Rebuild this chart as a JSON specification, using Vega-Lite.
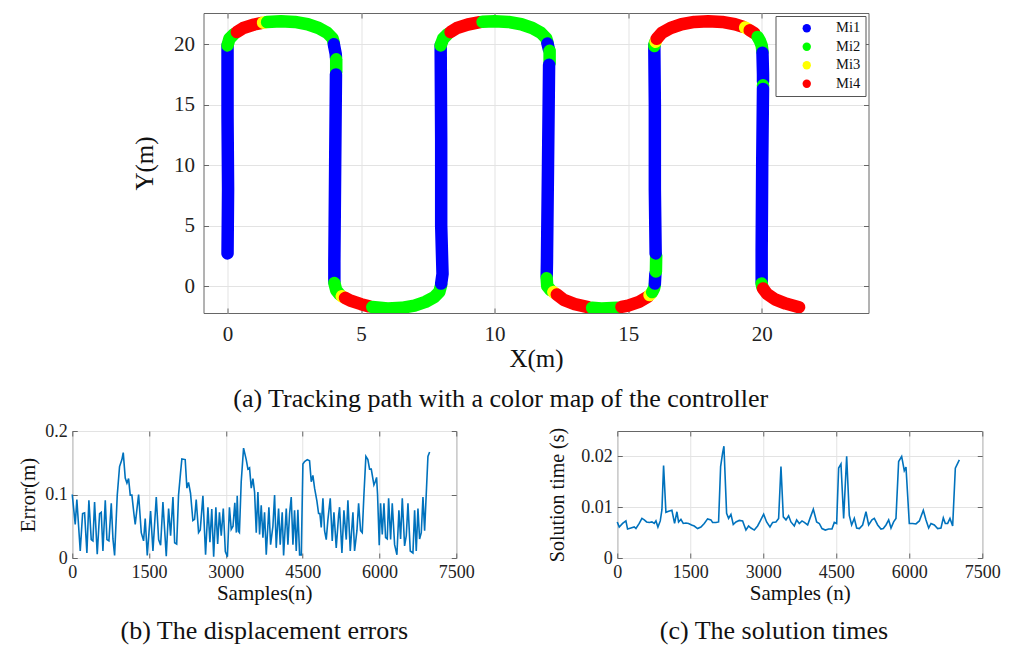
{
  "$schema": "https://vega.github.io/schema/vega-lite/v6.json",
  "background": "white",
  "padding": {"left": 17, "top": 12, "right": 5, "bottom": 5},
  "config": {
    "font": "Liberation Serif",
    "view": {"stroke": "#666666", "strokeWidth": 1},
    "axis": {
      "labelFont": "Liberation Serif",
      "titleFont": "Liberation Serif",
      "labelColor": "#222222",
      "titleColor": "#111111",
      "titleFontWeight": "normal",
      "labelFlush": false,
      "domain": false,
      "tickColor": "#666666",
      "tickSize": -5,
      "grid": true,
      "gridColor": "#e3e3e3",
      "gridWidth": 1
    },
    "title": {"font": "Liberation Serif", "fontWeight": "normal", "color": "#111111"}
  },
  "resolve": {"scale": {"color": "independent"}, "legend": {"color": "independent"}},
  "spacing": 8,
  "center": true,
  "vconcat": [
    {
      "name": "pa",
      "width": 665,
      "height": 300,
      "title": {"text": "(a) Tracking path with a color map of the controller", "orient": "bottom", "fontSize": 26, "offset": 15, "anchor": "middle", "frame": "bounds"},
      "data": {"values": [
        {"x": 0, "y": 2.7, "m": "Mi1", "s": 1}, {"x": 0.02, "y": 8, "m": "Mi1", "s": 1}, {"x": 0, "y": 14, "m": "Mi1", "s": 1}, {"x": 0, "y": 19.9, "m": "Mi1", "s": 1},
        {"x": 0, "y": 19.9, "m": "Mi2", "s": 2}, {"x": 0.07, "y": 20.45, "m": "Mi2", "s": 2}, {"x": 0.25, "y": 20.85, "m": "Mi2", "s": 2},
        {"x": 0.35, "y": 21.0, "m": "Mi4", "s": 3}, {"x": 0.59, "y": 21.34, "m": "Mi4", "s": 3}, {"x": 1.0, "y": 21.63, "m": "Mi4", "s": 3}, {"x": 1.25, "y": 21.75, "m": "Mi4", "s": 3},
        {"x": 1.33, "y": 21.78, "m": "Mi3", "s": 4}, {"x": 1.4, "y": 21.8, "m": "Mi3", "s": 4},
        {"x": 1.48, "y": 21.83, "m": "Mi2", "s": 5}, {"x": 2, "y": 21.9, "m": "Mi2", "s": 5}, {"x": 2.52, "y": 21.84, "m": "Mi2", "s": 5}, {"x": 3, "y": 21.65, "m": "Mi2", "s": 5}, {"x": 3.41, "y": 21.34, "m": "Mi2", "s": 5}, {"x": 3.73, "y": 20.95, "m": "Mi2", "s": 5}, {"x": 3.93, "y": 20.49, "m": "Mi2", "s": 5}, {"x": 3.98, "y": 20.1, "m": "Mi2", "s": 5},
        {"x": 3.98, "y": 20.0, "m": "Mi1", "s": 6}, {"x": 4.05, "y": 19.2, "m": "Mi1", "s": 6}, {"x": 4.06, "y": 18.9, "m": "Mi1", "s": 6},
        {"x": 4.07, "y": 18.75, "m": "Mi2", "s": 7}, {"x": 4.07, "y": 17.7, "m": "Mi2", "s": 7},
        {"x": 4.06, "y": 17.5, "m": "Mi1", "s": 8}, {"x": 4.03, "y": 10, "m": "Mi1", "s": 8}, {"x": 4.0, "y": 2, "m": "Mi1", "s": 8}, {"x": 4.0, "y": 0.35, "m": "Mi1", "s": 8},
        {"x": 4.0, "y": 0.25, "m": "Mi2", "s": 9}, {"x": 4.07, "y": -0.35, "m": "Mi2", "s": 9}, {"x": 4.2, "y": -0.7, "m": "Mi2", "s": 9},
        {"x": 4.28, "y": -0.85, "m": "Mi3", "s": 10}, {"x": 4.32, "y": -0.9, "m": "Mi3", "s": 10},
        {"x": 4.4, "y": -0.98, "m": "Mi4", "s": 11}, {"x": 4.59, "y": -1.2, "m": "Mi4", "s": 11}, {"x": 5.0, "y": -1.5, "m": "Mi4", "s": 11}, {"x": 5.3, "y": -1.68, "m": "Mi4", "s": 11},
        {"x": 5.42, "y": -1.73, "m": "Mi2", "s": 12}, {"x": 6, "y": -1.85, "m": "Mi2", "s": 12}, {"x": 6.52, "y": -1.8, "m": "Mi2", "s": 12}, {"x": 7, "y": -1.62, "m": "Mi2", "s": 12}, {"x": 7.41, "y": -1.31, "m": "Mi2", "s": 12}, {"x": 7.73, "y": -0.93, "m": "Mi2", "s": 12}, {"x": 7.93, "y": -0.48, "m": "Mi2", "s": 12}, {"x": 8.0, "y": 0.1, "m": "Mi2", "s": 12},
        {"x": 8.0, "y": 0.2, "m": "Mi1", "s": 13}, {"x": 8.05, "y": 1.0, "m": "Mi1", "s": 13}, {"x": 8.0, "y": 5, "m": "Mi1", "s": 13}, {"x": 8.0, "y": 12, "m": "Mi1", "s": 13}, {"x": 7.98, "y": 19.9, "m": "Mi1", "s": 13},
        {"x": 7.98, "y": 19.9, "m": "Mi2", "s": 14}, {"x": 8.07, "y": 20.45, "m": "Mi2", "s": 14}, {"x": 8.25, "y": 20.85, "m": "Mi2", "s": 14},
        {"x": 8.35, "y": 21.0, "m": "Mi4", "s": 15}, {"x": 8.59, "y": 21.34, "m": "Mi4", "s": 15}, {"x": 9.0, "y": 21.63, "m": "Mi4", "s": 15}, {"x": 9.45, "y": 21.82, "m": "Mi4", "s": 15},
        {"x": 9.55, "y": 21.85, "m": "Mi2", "s": 16}, {"x": 10, "y": 21.9, "m": "Mi2", "s": 16}, {"x": 10.52, "y": 21.84, "m": "Mi2", "s": 16}, {"x": 11, "y": 21.65, "m": "Mi2", "s": 16}, {"x": 11.41, "y": 21.34, "m": "Mi2", "s": 16}, {"x": 11.73, "y": 20.95, "m": "Mi2", "s": 16}, {"x": 11.93, "y": 20.49, "m": "Mi2", "s": 16}, {"x": 11.98, "y": 20.15, "m": "Mi2", "s": 16},
        {"x": 11.98, "y": 20.05, "m": "Mi1", "s": 17}, {"x": 12.03, "y": 19.6, "m": "Mi1", "s": 17},
        {"x": 12.06, "y": 19.45, "m": "Mi2", "s": 18}, {"x": 12.06, "y": 18.45, "m": "Mi2", "s": 18},
        {"x": 12.04, "y": 18.3, "m": "Mi1", "s": 19}, {"x": 12.0, "y": 10, "m": "Mi1", "s": 19}, {"x": 11.96, "y": 2, "m": "Mi1", "s": 19}, {"x": 11.95, "y": 0.8, "m": "Mi1", "s": 19},
        {"x": 11.95, "y": 0.65, "m": "Mi2", "s": 20}, {"x": 11.97, "y": 0.0, "m": "Mi2", "s": 20}, {"x": 12.1, "y": -0.35, "m": "Mi2", "s": 20},
        {"x": 12.2, "y": -0.5, "m": "Mi3", "s": 21}, {"x": 12.25, "y": -0.58, "m": "Mi3", "s": 21},
        {"x": 12.33, "y": -0.7, "m": "Mi4", "s": 22}, {"x": 12.59, "y": -1.15, "m": "Mi4", "s": 22}, {"x": 13.0, "y": -1.5, "m": "Mi4", "s": 22}, {"x": 13.5, "y": -1.75, "m": "Mi4", "s": 22},
        {"x": 13.65, "y": -1.8, "m": "Mi2", "s": 23}, {"x": 14, "y": -1.85, "m": "Mi2", "s": 23}, {"x": 14.6, "y": -1.8, "m": "Mi2", "s": 23},
        {"x": 14.75, "y": -1.72, "m": "Mi4", "s": 24}, {"x": 15, "y": -1.62, "m": "Mi4", "s": 24}, {"x": 15.41, "y": -1.31, "m": "Mi4", "s": 24}, {"x": 15.73, "y": -0.9, "m": "Mi4", "s": 24},
        {"x": 15.8, "y": -0.75, "m": "Mi3", "s": 25}, {"x": 15.85, "y": -0.65, "m": "Mi3", "s": 25},
        {"x": 15.9, "y": -0.5, "m": "Mi2", "s": 26}, {"x": 15.97, "y": -0.2, "m": "Mi2", "s": 26}, {"x": 16.0, "y": 0.1, "m": "Mi2", "s": 26},
        {"x": 16.0, "y": 0.2, "m": "Mi1", "s": 27}, {"x": 16.02, "y": 1.0, "m": "Mi1", "s": 27},
        {"x": 16.04, "y": 1.2, "m": "Mi2", "s": 28}, {"x": 16.05, "y": 2.5, "m": "Mi2", "s": 28},
        {"x": 16.03, "y": 2.7, "m": "Mi1", "s": 29}, {"x": 16.0, "y": 8, "m": "Mi1", "s": 29}, {"x": 16.0, "y": 15, "m": "Mi1", "s": 29}, {"x": 15.98, "y": 19.9, "m": "Mi1", "s": 29},
        {"x": 15.98, "y": 19.85, "m": "Mi2", "s": 30}, {"x": 16.0, "y": 20.1, "m": "Mi2", "s": 30},
        {"x": 16.03, "y": 20.2, "m": "Mi3", "s": 31}, {"x": 16.05, "y": 20.3, "m": "Mi3", "s": 31},
        {"x": 16.07, "y": 20.45, "m": "Mi4", "s": 32}, {"x": 16.27, "y": 20.95, "m": "Mi4", "s": 32}, {"x": 16.59, "y": 21.34, "m": "Mi4", "s": 32}, {"x": 17, "y": 21.65, "m": "Mi4", "s": 32}, {"x": 17.48, "y": 21.84, "m": "Mi4", "s": 32}, {"x": 18, "y": 21.9, "m": "Mi4", "s": 32}, {"x": 18.52, "y": 21.84, "m": "Mi4", "s": 32}, {"x": 19, "y": 21.65, "m": "Mi4", "s": 32}, {"x": 19.3, "y": 21.45, "m": "Mi4", "s": 32},
        {"x": 19.38, "y": 21.38, "m": "Mi3", "s": 33}, {"x": 19.45, "y": 21.3, "m": "Mi3", "s": 33},
        {"x": 19.55, "y": 21.15, "m": "Mi4", "s": 34}, {"x": 19.73, "y": 20.9, "m": "Mi4", "s": 34},
        {"x": 19.85, "y": 20.6, "m": "Mi2", "s": 35}, {"x": 19.93, "y": 20.3, "m": "Mi2", "s": 35}, {"x": 20.0, "y": 19.9, "m": "Mi2", "s": 35}, {"x": 20.03, "y": 19.4, "m": "Mi2", "s": 35},
        {"x": 20.03, "y": 19.3, "m": "Mi1", "s": 36}, {"x": 20.05, "y": 17.5, "m": "Mi1", "s": 36}, {"x": 20.05, "y": 16.9, "m": "Mi1", "s": 36},
        {"x": 20.05, "y": 16.6, "m": "Mi2", "s": 37}, {"x": 20.05, "y": 16.55, "m": "Mi2", "s": 37},
        {"x": 20.05, "y": 16.3, "m": "Mi1", "s": 38}, {"x": 20.02, "y": 10, "m": "Mi1", "s": 38}, {"x": 20.0, "y": 3, "m": "Mi1", "s": 38}, {"x": 20.0, "y": 0.3, "m": "Mi1", "s": 38},
        {"x": 20.0, "y": 0.2, "m": "Mi2", "s": 39}, {"x": 20.02, "y": -0.05, "m": "Mi2", "s": 39},
        {"x": 20.05, "y": -0.2, "m": "Mi4", "s": 40}, {"x": 20.2, "y": -0.65, "m": "Mi4", "s": 40}, {"x": 20.5, "y": -1.1, "m": "Mi4", "s": 40}, {"x": 20.9, "y": -1.45, "m": "Mi4", "s": 40}, {"x": 21.4, "y": -1.75, "m": "Mi4", "s": 40}
      ]},
      "layer": [
        {
          "mark": {"type": "line", "strokeWidth": 12.5, "strokeCap": "round", "strokeJoin": "round", "clip": true},
          "encoding": {
            "x": {"field": "x", "type": "quantitative", "scale": {"domain": [-0.9, 24], "nice": false, "zero": false},
              "axis": {"values": [0, 5, 10, 15, 20], "format": "d", "title": "X(m)", "labelFontSize": 21, "titleFontSize": 25, "labelPadding": 15, "titlePadding": 2}},
            "y": {"field": "y", "type": "quantitative", "scale": {"domain": [-2.23, 22.58], "nice": false, "zero": false},
              "axis": {"values": [0, 5, 10, 15, 20], "format": "d", "title": "Y(m)", "labelFontSize": 21, "titleFontSize": 25, "labelPadding": 14, "titlePadding": 16}},
            "color": {"field": "m", "type": "nominal",
              "scale": {"domain": ["Mi1", "Mi2", "Mi3", "Mi4"], "range": ["#0000ff", "#00ff00", "#ffff00", "#ff0000"]},
              "legend": {"title": null, "orient": "top-right", "offset": 3, "fillColor": "white", "strokeColor": "#555555", "padding": 5,
                "symbolType": "circle", "symbolSize": 70, "symbolOffset": 19, "labelOffset": 22, "labelFontSize": 14.5, "labelFont": "Liberation Serif", "labelColor": "#111111", "rowPadding": 3.5,
                "encode": {"symbols": {"update": {"fill": {"scale": "pa_color", "field": "value"}, "stroke": {"value": "transparent"}, "strokeWidth": {"value": 0}}}}}},
            "detail": {"field": "s", "type": "nominal"},
            "order": {"value": null}
          }
        },
        {
          "mark": {"type": "point", "opacity": 0},
          "encoding": {
            "x": {"field": "x", "type": "quantitative", "scale": {"domain": [-0.9, 24], "nice": false, "zero": false},
              "axis": {"orient": "top", "values": [0, 5, 10, 15, 20], "labels": false, "title": null, "grid": false}},
            "y": {"field": "y", "type": "quantitative", "scale": {"domain": [-2.23, 22.58], "nice": false, "zero": false},
              "axis": {"orient": "right", "values": [0, 5, 10, 15, 20], "labels": false, "title": null, "grid": false}}
          }
        }
      ],
      "resolve": {"axis": {"x": "independent", "y": "independent"}}
    },
    {
      "spacing": 72,
      "hconcat": [
        {
          "width": 384,
          "height": 127,
          "title": {"text": "(b) The displacement errors", "orient": "bottom", "fontSize": 26, "offset": 15, "anchor": "middle", "frame": "group"},
          "data": {"values": [
            {"n": 0, "e": 0.1}, {"n": 58, "e": 0.053}, {"n": 90, "e": 0.092}, {"n": 156, "e": 0.011}, {"n": 202, "e": 0.07}, {"n": 241, "e": 0.071}, {"n": 286, "e": 0.008}, {"n": 325, "e": 0.091}, {"n": 371, "e": 0.029}, {"n": 404, "e": 0.027}, {"n": 436, "e": 0.088}, {"n": 488, "e": 0.006}, {"n": 534, "e": 0.07}, {"n": 566, "e": 0.072}, {"n": 599, "e": 0.011}, {"n": 645, "e": 0.091}, {"n": 677, "e": 0.029}, {"n": 716, "e": 0.027}, {"n": 762, "e": 0.086}, {"n": 795, "e": 0.03}, {"n": 827, "e": 0.004},
            {"n": 879, "e": 0.099}, {"n": 924, "e": 0.144}, {"n": 970, "e": 0.155}, {"n": 996, "e": 0.166}, {"n": 1035, "e": 0.126}, {"n": 1068, "e": 0.118}, {"n": 1100, "e": 0.125}, {"n": 1133, "e": 0.099}, {"n": 1165, "e": 0.099}, {"n": 1204, "e": 0.07}, {"n": 1230, "e": 0.053},
            {"n": 1296, "e": 0.1}, {"n": 1348, "e": 0.04}, {"n": 1393, "e": 0.027}, {"n": 1425, "e": 0.062}, {"n": 1465, "e": 0.004}, {"n": 1530, "e": 0.074}, {"n": 1576, "e": 0.011}, {"n": 1641, "e": 0.096}, {"n": 1687, "e": 0.029}, {"n": 1726, "e": 0.02}, {"n": 1771, "e": 0.088}, {"n": 1836, "e": 0.003}, {"n": 1882, "e": 0.078}, {"n": 1921, "e": 0.035}, {"n": 1967, "e": 0.096}, {"n": 2000, "e": 0.024}, {"n": 2040, "e": 0.022},
            {"n": 2076, "e": 0.099}, {"n": 2115, "e": 0.134}, {"n": 2141, "e": 0.156}, {"n": 2206, "e": 0.155}, {"n": 2239, "e": 0.11}, {"n": 2271, "e": 0.119}, {"n": 2310, "e": 0.102}, {"n": 2356, "e": 0.059}, {"n": 2389, "e": 0.061},
            {"n": 2421, "e": 0.092}, {"n": 2467, "e": 0.04}, {"n": 2500, "e": 0.044}, {"n": 2552, "e": 0.098}, {"n": 2604, "e": 0.005}, {"n": 2650, "e": 0.08}, {"n": 2689, "e": 0.025}, {"n": 2725, "e": 0.077}, {"n": 2762, "e": 0.002}, {"n": 2805, "e": 0.08}, {"n": 2840, "e": 0.022}, {"n": 2875, "e": 0.072}, {"n": 2910, "e": 0.035}, {"n": 2950, "e": 0.078}, {"n": 2990, "e": 0.01}, {"n": 3030, "e": 0.002}, {"n": 3070, "e": 0.08}, {"n": 3105, "e": 0.045}, {"n": 3140, "e": 0.05}, {"n": 3175, "e": 0.087}, {"n": 3205, "e": 0.04}, {"n": 3222, "e": 0.098}, {"n": 3245, "e": 0.042}, {"n": 3265, "e": 0.04},
            {"n": 3300, "e": 0.12}, {"n": 3346, "e": 0.173}, {"n": 3398, "e": 0.155}, {"n": 3431, "e": 0.14}, {"n": 3463, "e": 0.142}, {"n": 3496, "e": 0.11}, {"n": 3529, "e": 0.125}, {"n": 3561, "e": 0.104},
            {"n": 3594, "e": 0.04}, {"n": 3626, "e": 0.104}, {"n": 3659, "e": 0.037}, {"n": 3691, "e": 0.083}, {"n": 3724, "e": 0.032}, {"n": 3756, "e": 0.072}, {"n": 3789, "e": 0.005}, {"n": 3841, "e": 0.08}, {"n": 3874, "e": 0.021}, {"n": 3919, "e": 0.05}, {"n": 3952, "e": 0.099}, {"n": 3984, "e": 0.016}, {"n": 4030, "e": 0.078}, {"n": 4062, "e": 0.021}, {"n": 4101, "e": 0.072}, {"n": 4128, "e": 0.004}, {"n": 4180, "e": 0.078}, {"n": 4212, "e": 0.021}, {"n": 4245, "e": 0.07}, {"n": 4277, "e": 0.096}, {"n": 4310, "e": 0.021}, {"n": 4342, "e": 0.075}, {"n": 4375, "e": 0.011}, {"n": 4407, "e": 0.076}, {"n": 4440, "e": 0.005}, {"n": 4473, "e": 0.005},
            {"n": 4505, "e": 0.148}, {"n": 4538, "e": 0.152}, {"n": 4590, "e": 0.155}, {"n": 4635, "e": 0.153}, {"n": 4668, "e": 0.12}, {"n": 4700, "e": 0.13}, {"n": 4733, "e": 0.11}, {"n": 4778, "e": 0.09}, {"n": 4811, "e": 0.07}, {"n": 4837, "e": 0.07}, {"n": 4863, "e": 0.048},
            {"n": 4896, "e": 0.094}, {"n": 4928, "e": 0.043}, {"n": 4961, "e": 0.029}, {"n": 4993, "e": 0.06}, {"n": 5039, "e": 0.094}, {"n": 5078, "e": 0.027}, {"n": 5111, "e": 0.072}, {"n": 5156, "e": 0.016}, {"n": 5202, "e": 0.067}, {"n": 5221, "e": 0.08}, {"n": 5267, "e": 0.008}, {"n": 5306, "e": 0.075}, {"n": 5352, "e": 0.029}, {"n": 5384, "e": 0.091}, {"n": 5430, "e": 0.011}, {"n": 5482, "e": 0.072}, {"n": 5514, "e": 0.011}, {"n": 5560, "e": 0.043}, {"n": 5593, "e": 0.086}, {"n": 5632, "e": 0.043}, {"n": 5664, "e": 0.04},
            {"n": 5697, "e": 0.1}, {"n": 5735, "e": 0.16}, {"n": 5774, "e": 0.155}, {"n": 5807, "e": 0.14}, {"n": 5840, "e": 0.14}, {"n": 5892, "e": 0.115}, {"n": 5918, "e": 0.12}, {"n": 5944, "e": 0.127}, {"n": 5963, "e": 0.1},
            {"n": 5996, "e": 0.02}, {"n": 6022, "e": 0.086}, {"n": 6055, "e": 0.037}, {"n": 6088, "e": 0.086}, {"n": 6120, "e": 0.032}, {"n": 6153, "e": 0.03}, {"n": 6179, "e": 0.094}, {"n": 6218, "e": 0.029}, {"n": 6250, "e": 0.086}, {"n": 6296, "e": 0.021}, {"n": 6341, "e": 0.005}, {"n": 6380, "e": 0.075}, {"n": 6413, "e": 0.03}, {"n": 6446, "e": 0.094}, {"n": 6491, "e": 0.019}, {"n": 6524, "e": 0.035}, {"n": 6557, "e": 0.086}, {"n": 6602, "e": 0.011}, {"n": 6654, "e": 0.008}, {"n": 6687, "e": 0.075}, {"n": 6719, "e": 0.011}, {"n": 6752, "e": 0.078}, {"n": 6784, "e": 0.03}, {"n": 6817, "e": 0.04}, {"n": 6850, "e": 0.096}, {"n": 6882, "e": 0.043}, {"n": 6947, "e": 0.16}, {"n": 6980, "e": 0.167}
          ]},
          "layer": [
            {
              "mark": {"type": "line", "color": "#0072BD", "strokeWidth": 1.6},
              "encoding": {
                "x": {"field": "n", "type": "quantitative", "scale": {"domain": [0, 7500], "nice": false},
                  "axis": {"values": [0, 1500, 3000, 4500, 6000, 7500], "format": "d", "title": "Samples(n)", "labelFontSize": 18, "titleFontSize": 21, "labelPadding": 10, "titlePadding": 1}},
                "y": {"field": "e", "type": "quantitative", "scale": {"domain": [0, 0.2], "nice": false},
                  "axis": {"values": [0, 0.1, 0.2], "format": "~g", "title": "Error(m)", "labelFontSize": 18, "titleFontSize": 21, "labelPadding": 10, "titlePadding": 6}}
              }
            },
            {
              "mark": {"type": "point", "opacity": 0},
              "encoding": {
                "x": {"field": "n", "type": "quantitative", "scale": {"domain": [0, 7500], "nice": false},
                  "axis": {"orient": "top", "values": [0, 1500, 3000, 4500, 6000, 7500], "labels": false, "title": null, "grid": false}},
                "y": {"field": "e", "type": "quantitative", "scale": {"domain": [0, 0.2], "nice": false},
                  "axis": {"orient": "right", "values": [0, 0.1, 0.2], "labels": false, "title": null, "grid": false}}
              }
            }
          ],
          "resolve": {"axis": {"x": "independent", "y": "independent"}}
        },
        {
          "width": 365,
          "height": 127,
          "title": {"text": "(c) The solution times", "orient": "bottom", "fontSize": 26, "offset": 15, "anchor": "middle", "frame": "bounds"},
          "data": {"values": [
            {"n": 0, "t": 0.0071}, {"n": 41, "t": 0.0061}, {"n": 110, "t": 0.0068}, {"n": 178, "t": 0.0073}, {"n": 212, "t": 0.0057}, {"n": 281, "t": 0.0059}, {"n": 349, "t": 0.0061}, {"n": 384, "t": 0.0058}, {"n": 452, "t": 0.0068}, {"n": 507, "t": 0.0078}, {"n": 555, "t": 0.0075}, {"n": 603, "t": 0.0071}, {"n": 658, "t": 0.007}, {"n": 712, "t": 0.0071}, {"n": 760, "t": 0.0068}, {"n": 795, "t": 0.0073}, {"n": 836, "t": 0.0061}, {"n": 884, "t": 0.0073}, {"n": 918, "t": 0.0095}, {"n": 952, "t": 0.0182}, {"n": 1000, "t": 0.009}, {"n": 1055, "t": 0.0092}, {"n": 1123, "t": 0.0094}, {"n": 1178, "t": 0.0068}, {"n": 1226, "t": 0.0091}, {"n": 1260, "t": 0.0071}, {"n": 1308, "t": 0.0076}, {"n": 1356, "t": 0.0068}, {"n": 1411, "t": 0.0069}, {"n": 1466, "t": 0.0068}, {"n": 1527, "t": 0.0065}, {"n": 1582, "t": 0.0063}, {"n": 1651, "t": 0.0058}, {"n": 1719, "t": 0.0061}, {"n": 1788, "t": 0.0068}, {"n": 1856, "t": 0.0077}, {"n": 1925, "t": 0.0075}, {"n": 1959, "t": 0.007}, {"n": 2028, "t": 0.007}, {"n": 2082, "t": 0.0071}, {"n": 2124, "t": 0.018}, {"n": 2165, "t": 0.0207}, {"n": 2192, "t": 0.022}, {"n": 2247, "t": 0.0088}, {"n": 2288, "t": 0.0078}, {"n": 2336, "t": 0.0086}, {"n": 2384, "t": 0.0066}, {"n": 2439, "t": 0.0071}, {"n": 2507, "t": 0.0074}, {"n": 2576, "t": 0.0073}, {"n": 2644, "t": 0.0055}, {"n": 2699, "t": 0.0063}, {"n": 2747, "t": 0.0059}, {"n": 2816, "t": 0.0055}, {"n": 2884, "t": 0.0063}, {"n": 2939, "t": 0.0073}, {"n": 3008, "t": 0.0086}, {"n": 3069, "t": 0.0071}, {"n": 3138, "t": 0.0061}, {"n": 3193, "t": 0.007}, {"n": 3261, "t": 0.0071}, {"n": 3316, "t": 0.0078}, {"n": 3364, "t": 0.018}, {"n": 3412, "t": 0.0081}, {"n": 3467, "t": 0.0075}, {"n": 3521, "t": 0.0083}, {"n": 3569, "t": 0.0071}, {"n": 3638, "t": 0.0063}, {"n": 3686, "t": 0.0075}, {"n": 3741, "t": 0.0068}, {"n": 3796, "t": 0.0073}, {"n": 3844, "t": 0.007}, {"n": 3912, "t": 0.0065}, {"n": 3960, "t": 0.0078}, {"n": 4029, "t": 0.0096}, {"n": 4097, "t": 0.0071}, {"n": 4152, "t": 0.0068}, {"n": 4207, "t": 0.0058}, {"n": 4275, "t": 0.0055}, {"n": 4343, "t": 0.0057}, {"n": 4412, "t": 0.0057}, {"n": 4460, "t": 0.007}, {"n": 4508, "t": 0.0068}, {"n": 4549, "t": 0.0177}, {"n": 4597, "t": 0.0185}, {"n": 4652, "t": 0.0078}, {"n": 4714, "t": 0.02}, {"n": 4768, "t": 0.0084}, {"n": 4816, "t": 0.0065}, {"n": 4871, "t": 0.0078}, {"n": 4919, "t": 0.0059}, {"n": 4974, "t": 0.0058}, {"n": 5042, "t": 0.0065}, {"n": 5111, "t": 0.0091}, {"n": 5166, "t": 0.0065}, {"n": 5234, "t": 0.0075}, {"n": 5282, "t": 0.0078}, {"n": 5351, "t": 0.0065}, {"n": 5419, "t": 0.0057}, {"n": 5467, "t": 0.0058}, {"n": 5522, "t": 0.0065}, {"n": 5577, "t": 0.0075}, {"n": 5625, "t": 0.0059}, {"n": 5679, "t": 0.0071}, {"n": 5727, "t": 0.0078}, {"n": 5782, "t": 0.019}, {"n": 5844, "t": 0.02}, {"n": 5898, "t": 0.0172}, {"n": 5933, "t": 0.0179}, {"n": 6001, "t": 0.0068}, {"n": 6070, "t": 0.0068}, {"n": 6138, "t": 0.0067}, {"n": 6207, "t": 0.0073}, {"n": 6289, "t": 0.0094}, {"n": 6344, "t": 0.0075}, {"n": 6399, "t": 0.0059}, {"n": 6447, "t": 0.0068}, {"n": 6515, "t": 0.0065}, {"n": 6584, "t": 0.0058}, {"n": 6652, "t": 0.0059}, {"n": 6700, "t": 0.0079}, {"n": 6741, "t": 0.0068}, {"n": 6789, "t": 0.0068}, {"n": 6837, "t": 0.0078}, {"n": 6892, "t": 0.0063}, {"n": 6947, "t": 0.0177}, {"n": 7029, "t": 0.0193}
          ]},
          "layer": [
            {
              "mark": {"type": "line", "color": "#0072BD", "strokeWidth": 1.6},
              "encoding": {
                "x": {"field": "n", "type": "quantitative", "scale": {"domain": [0, 7500], "nice": false},
                  "axis": {"values": [0, 1500, 3000, 4500, 6000, 7500], "format": "d", "title": "Samples (n)", "labelFontSize": 18, "titleFontSize": 21, "labelPadding": 10, "titlePadding": 1}},
                "y": {"field": "t", "type": "quantitative", "scale": {"domain": [0, 0.025], "nice": false},
                  "axis": {"values": [0, 0.01, 0.02], "format": "~g", "title": "Solution time (s)", "labelFontSize": 18, "titleFontSize": 20, "labelPadding": 10, "titlePadding": 13}}
              }
            },
            {
              "mark": {"type": "point", "opacity": 0},
              "encoding": {
                "x": {"field": "n", "type": "quantitative", "scale": {"domain": [0, 7500], "nice": false},
                  "axis": {"orient": "top", "values": [0, 1500, 3000, 4500, 6000, 7500], "labels": false, "title": null, "grid": false}},
                "y": {"field": "t", "type": "quantitative", "scale": {"domain": [0, 0.025], "nice": false},
                  "axis": {"orient": "right", "values": [0, 0.01, 0.02], "labels": false, "title": null, "grid": false}}
              }
            }
          ],
          "resolve": {"axis": {"x": "independent", "y": "independent"}}
        }
      ]
    }
  ]
}
